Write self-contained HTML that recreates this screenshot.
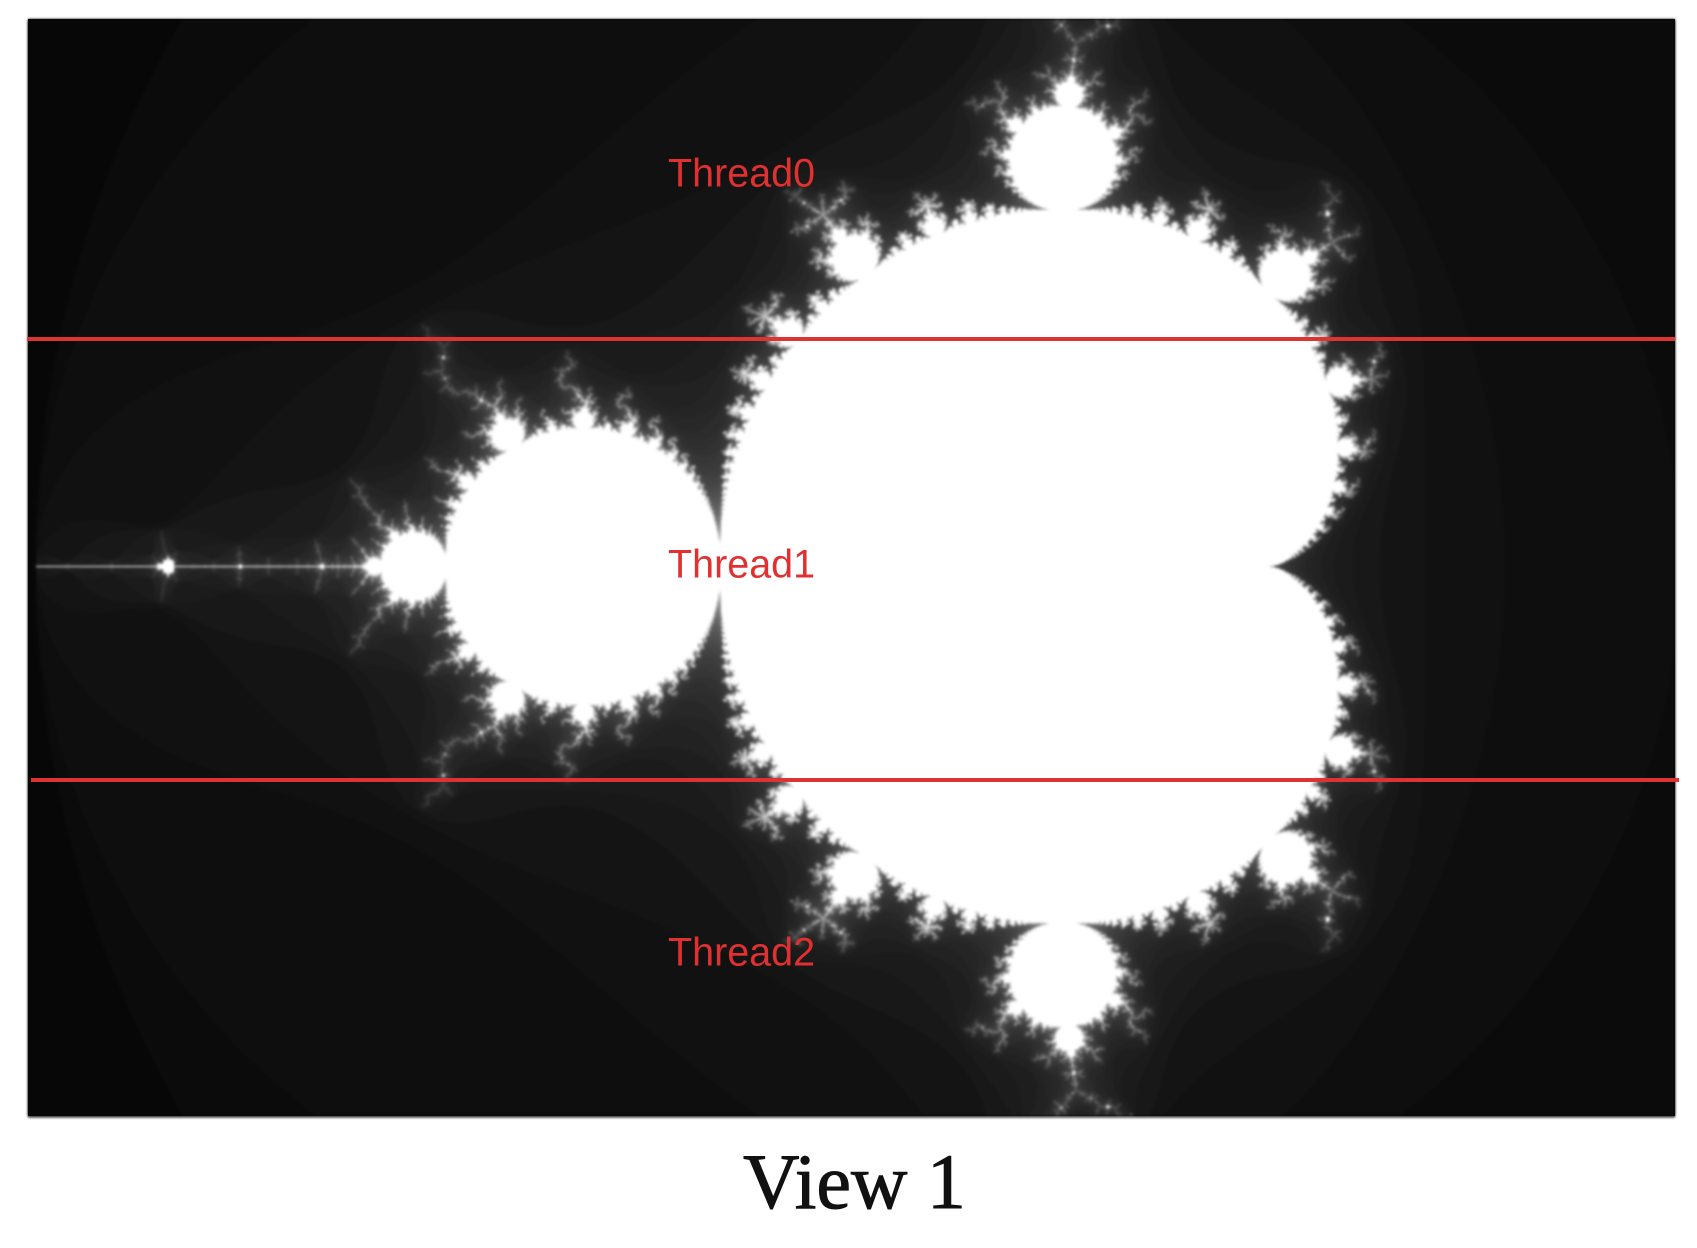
<!DOCTYPE html>
<html><head><meta charset="utf-8"><style>
html,body{margin:0;padding:0;background:#fff;width:1697px;height:1248px;overflow:hidden;position:relative;font-family:"Liberation Sans",sans-serif}
#panel{position:absolute;left:28px;top:19px;width:1647px;height:1097px;background:#080808;box-shadow:0 2px 2px #777}
#mb{position:absolute;left:0;top:0;width:1647px;height:1097px;filter:blur(1.3px)}
.rl{position:absolute;height:4px;background:#dd3333}
.lbl{position:absolute;color:#e03030;font-size:39.5px;line-height:1;transform:translateY(-50%)}
#cap{position:absolute;left:0;width:1697px;top:1137px;text-align:center;font-family:"Liberation Serif",serif;font-size:78px;color:#111;padding-left:12px;box-sizing:border-box;-webkit-text-stroke:1px #111}
</style></head><body>
<div id="panel">
<canvas id="mb" width="1647" height="1097"></canvas>
</div>
<div class="rl" style="left:27px;width:1648px;top:337px"></div>
<div class="rl" style="left:31px;width:1648px;top:778px"></div>
<div class="lbl" style="left:668px;top:174px">Thread0</div>
<div class="lbl" style="left:668px;top:565px">Thread1</div>
<div class="lbl" style="left:668px;top:953px">Thread2</div>
<div id="cap">View 1</div>
<script>
const cv=document.getElementById('mb');const ctx=cv.getContext('2d');
const W=cv.width,H=cv.height;const img=ctx.createImageData(W,H);const d=img.data;
const scale=548, x0=720-28+0.75*scale, y0=566-19, maxI=200;
for(let py=0;py<H;py++){const ci=(y0-py)/scale;
 for(let px=0;px<W;px++){const cr=(px-x0)/scale;let v;
  const q=(cr-0.25)*(cr-0.25)+ci*ci;
  if(q*(q+(cr-0.25))<0.25*ci*ci||(cr+1)*(cr+1)+ci*ci<0.0625){v=255;}
  else{let zr=0,zi=0,n=0;
   while(n<maxI&&zr*zr+zi*zi<4){const t=zr*zr-zi*zi+cr;zi=2*zr*zi+ci;zr=t;n++;}
   v=n>=maxI?255:Math.min(255,4+3.3*n);}
  const k=(py*W+px)*4;d[k]=d[k+1]=d[k+2]=v;d[k+3]=255;}}
ctx.putImageData(img,0,0);
</script>
</body></html>
